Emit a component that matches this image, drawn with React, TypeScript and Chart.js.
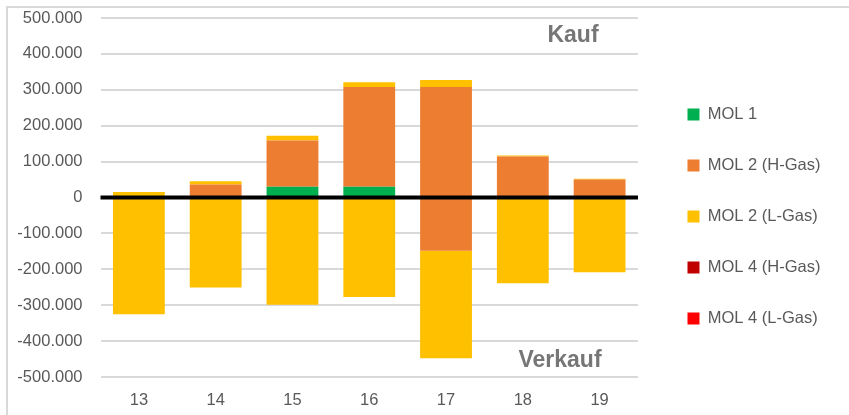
import React, { useEffect, useRef } from "react";
import { Chart, registerables } from "chart.js";

Chart.register(...registerables);

const categories = ["13", "14", "15", "16", "17", "18", "19"];
const legendLabels = ["MOL 1", "MOL 2 (H-Gas)", "MOL 2 (L-Gas)", "MOL 4 (H-Gas)", "MOL 4 (L-Gas)"];
const seriesColors = ["#00B050", "#ED7D31", "#FFC000", "#C00000", "#FF0000"];

// Kauf (purchases, positive)
const mol1Kauf = [0, 0, 30000, 30000, 0, 0, 0];
const mol2HKauf = [0, 36000, 129000, 278000, 308000, 114000, 50000];
const mol2LKauf = [15000, 9000, 13000, 13000, 19000, 3000, 2000];
const mol4HKauf = [0, 0, 0, 0, 0, 0, 0];
const mol4LKauf = [0, 0, 0, 0, 0, 0, 0];
// Verkauf (sales, negative)
const mol2HVerkauf = [0, 0, 0, 0, -148000, 0, 0];
const mol2LVerkauf = [-325000, -251000, -299000, -277000, -300000, -239000, -208000];

const yMin = -500000;
const yMax = 500000;
const yStep = 100000;

const FONT = "'Liberation Sans', Arial, sans-serif";
const TEXT = "#595959";
const GRID = "#D9D9D9";

function fmt(v: number): string {
  const neg = v < 0;
  const s = Math.abs(v).toString().replace(/\B(?=(\d{3})+(?!\d))/g, ".");
  return (neg ? "-" : "") + s;
}

const LEGEND_GAP = 15;
const LEGEND_DY = 2;

const overlayPlugin = {
  id: "overlay",
  beforeUpdate(chart: any) {
    const legend = chart.legend;
    if (legend && !legend.__patched) {
      const origFit = legend.fit;
      legend.fit = function () {
        origFit.call(this);
        this.width += LEGEND_GAP;
      };
      legend.__patched = true;
    }
  },
  afterLayout(chart: any) {
    const legend = chart.legend;
    if (legend) {
      legend.left += LEGEND_GAP;
      legend.right += LEGEND_GAP;
      legend.top += LEGEND_DY;
      legend.bottom += LEGEND_DY;
    }
  },
  beforeDraw(chart: any) {
    const ctx = chart.ctx;
    ctx.save();
    ctx.fillStyle = "#FFFFFF";
    ctx.fillRect(0, 0, chart.width, chart.height);
    ctx.fillStyle = GRID;
    ctx.fillRect(6, 6, chart.width - 6, 2);
    ctx.fillRect(6, 6, 2, chart.height - 6);
    ctx.restore();
  },
  afterDatasetsDraw(chart: any) {
    const ctx = chart.ctx;
    const area = chart.chartArea;
    const y = chart.scales.y;
    const y0 = y.getPixelForValue(0);
    ctx.save();
    ctx.strokeStyle = "#000000";
    ctx.lineWidth = 4;
    ctx.beginPath();
    ctx.moveTo(area.left, y0);
    ctx.lineTo(area.right, y0);
    ctx.stroke();

    ctx.fillStyle = "#767676";
    ctx.font = "bold 23px " + FONT;
    ctx.textAlign = "center";
    ctx.textBaseline = "middle";
    ctx.fillText("Kauf", area.right - 65, y.getPixelForValue(450000));
    ctx.fillText("Verkauf", area.right - 78, y.getPixelForValue(-455000));
    ctx.restore();
  },
};

export default function App() {
  const ref = useRef<HTMLCanvasElement | null>(null);

  useEffect(() => {
    document.body.style.margin = "0";
    if (!ref.current) return;
    const mk = (label: string, data: number[], color: string) => ({
      label,
      data,
      backgroundColor: color,
      borderWidth: 0,
      categoryPercentage: 1,
      barPercentage: 0.675,
    });
    const chart = new Chart(ref.current, {
      type: "bar",
      data: {
        labels: categories,
        datasets: [
          mk(legendLabels[0], mol1Kauf, seriesColors[0]),
          mk(legendLabels[1], mol2HKauf, seriesColors[1]),
          mk(legendLabels[2], mol2LKauf, seriesColors[2]),
          mk(legendLabels[3], mol4HKauf, seriesColors[3]),
          mk(legendLabels[4], mol4LKauf, seriesColors[4]),
          mk(legendLabels[1] + " Verkauf", mol2HVerkauf, seriesColors[1]),
          mk(legendLabels[2] + " Verkauf", mol2LVerkauf, seriesColors[2]),
        ],
      },
      options: {
        animation: false,
        responsive: true,
        maintainAspectRatio: false,
        layout: { padding: { top: 18, left: 14.5, right: 18.5, bottom: 4 } },
        scales: {
          x: {
            stacked: true,
            grid: { display: false, drawTicks: false },
            border: { display: false },
            ticks: { color: TEXT, font: { family: FONT, size: 16.5 }, padding: 14 },
            afterFit: (scale: any) => {
              scale.height = 34;
            },
          },
          y: {
            stacked: true,
            min: yMin,
            max: yMax,
            grid: { color: GRID, lineWidth: 2, drawTicks: false },
            border: { display: false },
            ticks: {
              stepSize: yStep,
              color: TEXT,
              font: { family: FONT, size: 16.5 },
              padding: 18,
              callback: (v: any) => fmt(Number(v)),
            },
            afterFit: (scale: any) => {
              scale.width = 86;
              scale.paddingTop = 10;
              scale.paddingBottom = 10;
            },
          },
        },
        plugins: {
          legend: {
            position: "right",
            labels: {
              boxWidth: 12,
              boxHeight: 12,
              padding: 34.5,
              color: TEXT,
              font: { family: FONT, size: 16.5 },
              filter: (item: any) => item.datasetIndex < 5,
            },
          },
          tooltip: { enabled: false },
        },
      },
      plugins: [overlayPlugin],
    } as any);
    return () => chart.destroy();
  }, []);

  return (
    <div style={{ position: "relative", width: "849px", height: "415px" }}>
      <canvas ref={ref} />
    </div>
  );
}
